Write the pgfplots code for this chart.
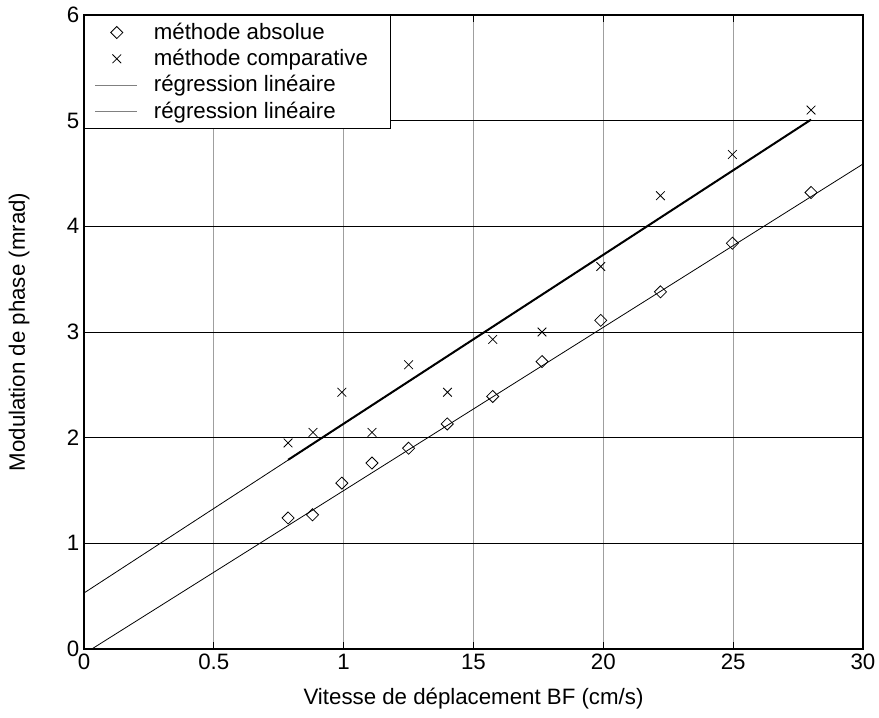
\documentclass[border=0pt]{standalone}
\usepackage{fontspec}
\setmainfont{Liberation Sans}
\usepackage{pgfplots}
\pgfplotsset{compat=1.18}

\pgfplotsset{
  markleg/.style={legend image code/.code={\draw[##1] plot coordinates {(16pt,0pt)};}},
  lineleg/.style={legend image code/.code={\draw[gray, line width=0.6pt] (0pt,0pt) -- (31.5pt,0pt);}},
}

% measured data (x in cm/s, y in mrad)
\pgfplotstableread{
x     y
7.86  1.24
8.80  1.27
9.93  1.57
11.09 1.76
12.50 1.90
13.99 2.13
15.74 2.39
17.64 2.72
19.90 3.11
22.20 3.38
24.97 3.84
28.00 4.32
}\absolue
\pgfplotstableread{
x     y
7.86  1.95
8.82  2.05
9.93  2.43
11.09 2.05
12.50 2.69
14.00 2.43
15.74 2.93
17.64 3.00
19.90 3.62
22.20 4.29
24.97 4.68
28.00 5.10
}\comparative

\begin{document}
\begin{tikzpicture}
\begin{axis}[
    name=ax,
    scale only axis,
    width=584.25pt, height=475.5pt,
    xmin=0, xmax=30, ymin=0, ymax=6,
    xtick={0,5,...,30},
    xticklabels={0,0.5,1,15,20,25,30},
    ytick={0,1,...,6},
    font=\fontsize{16.7}{19}\selectfont,
    /pgf/number format/assume math mode=true,
    tick label style={font=\fontsize{16.7}{19}\selectfont},
    tick align=inside,
    major tick length=5pt,
    tick style={black, line width=0.5pt},
    axis line style={black, line width=0.8pt},
    grid=major,
    x grid style={gray!75, line width=0.7pt},
    y grid style={black, line width=0.6pt},
    xlabel={Vitesse de déplacement BF (cm/s)},
    ylabel={Modulation de phase (mrad)},
    xlabel style={at={(axis description cs:0.5,-0.078)}, anchor=center},
    ylabel style={at={(axis description cs:-0.0834,0.5)}, anchor=center},
    legend cell align=left,
    legend style={at={(0,1)}, anchor=north west, draw=black, line width=0.6pt,
        inner xsep=8pt, inner ysep=3pt, row sep=0pt, column sep=10pt,
        nodes={inner ysep=0pt, text height=15pt, text depth=4.7pt},
        font=\fontsize{16.7}{19}\selectfont},
]
\addplot[only marks, mark=square, mark size=3.2pt, mark options={rotate=45, line width=0.6pt}, markleg]
    table[x=x, y=y] {\absolue};
\addlegendentry{méthode absolue}
\addplot[only marks, mark=x, mark size=4.6pt, mark options={line width=0.6pt}, markleg]
    table[x=x, y=y] {\comparative};
\addlegendentry{méthode comparative\kern7pt\hbox{}}
\addplot[black, line width=0.6pt, lineleg]
    coordinates {(0.3,0) (30,4.59)};
\addlegendentry{régression linéaire}
\addplot[black, line width=0.6pt, lineleg]
    coordinates {(0,0.53) (28,5.01)};
\addlegendentry{régression linéaire}
\addplot[black, line width=1.5pt, forget plot]
    coordinates {(7.86,1.79) (28,5.01)};
\end{axis}
\pgfresetboundingbox
\path ([shift={(-63pt,-51.75pt)}]ax.south west) rectangle ([shift={(12pt,11.25pt)}]ax.north east);
\end{tikzpicture}
\end{document}
